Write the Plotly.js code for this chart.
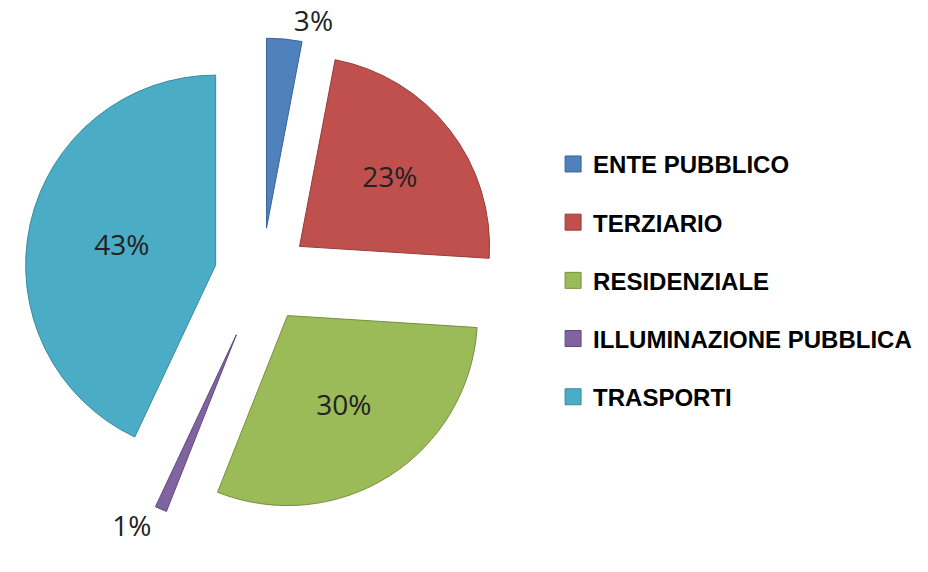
<!DOCTYPE html>
<html>
<head>
<meta charset="utf-8">
<script src="https://cdn.plot.ly/plotly-3.0.1.min.js"></script>
<style>html,body{margin:0;padding:0;background:#fff;}#chart{width:928px;height:572px;}</style>
</head>
<body>
<div id="chart"></div>
<script>
var categories = ['ENTE PUBBLICO', 'TERZIARIO', 'RESIDENZIALE', 'ILLUMINAZIONE PUBBLICA', 'TRASPORTI'];
var values = [3, 23, 30, 1, 43];
var colors = ['#4F81BD', '#C0504D', '#9BBB59', '#8064A2', '#4BACC6'];
var edgeColors = ['#3A6496', '#943C3A', '#76903F', '#5E4A7A', '#3A8A9F'];
var pulls = [0.25, 0.25, 0.25, 0.34, 0.25];
var textPositions = ['outside', 'inside', 'inside', 'outside', 'inside'];

var pie = {
  type: 'pie',
  labels: categories,
  values: values,
  sort: false,
  direction: 'clockwise',
  rotation: 0,
  pull: pulls,
  marker: {colors: colors, line: {color: edgeColors, width: 1}},
  texttemplate: '%{percent:.0%}',
  textposition: textPositions,
  insidetextorientation: 'horizontal',
  textfont: {family: 'Open Sans, sans-serif', size: 28, color: '#222222'},
  automargin: false,
  showlegend: false,
  hoverinfo: 'label+percent',
  domain: {x: [0.0080, 0.5567], y: [0.0733, 0.9635]}
};

var traces = [pie];
categories.forEach(function (c, i) {
  traces.push({
    type: 'scatter', mode: 'markers', x: [null], y: [null],
    name: c, legendgroup: c, showlegend: true, hoverinfo: 'skip',
    marker: {symbol: 'square', size: 16, color: colors[i], line: {color: edgeColors[i], width: 1}}
  });
});

var layout = {
  width: 928, height: 572,
  margin: {l: 0, r: 0, t: 0, b: 0},
  paper_bgcolor: '#ffffff', plot_bgcolor: 'rgba(0,0,0,0)',
  xaxis: {visible: false}, yaxis: {visible: false},
  showlegend: true,
  legend: {
    x: 0.596, y: 0.752, xanchor: 'left', yanchor: 'top',
    font: {family: 'Liberation Sans, Arial, sans-serif', size: 24, color: '#000000', weight: 'bold'},
    tracegroupgap: 24, itemwidth: 30, bgcolor: 'rgba(0,0,0,0)', borderwidth: 0
  }
};

Plotly.newPlot('chart', traces, layout, {displayModeBar: false, staticPlot: true});
</script>
</body>
</html>
